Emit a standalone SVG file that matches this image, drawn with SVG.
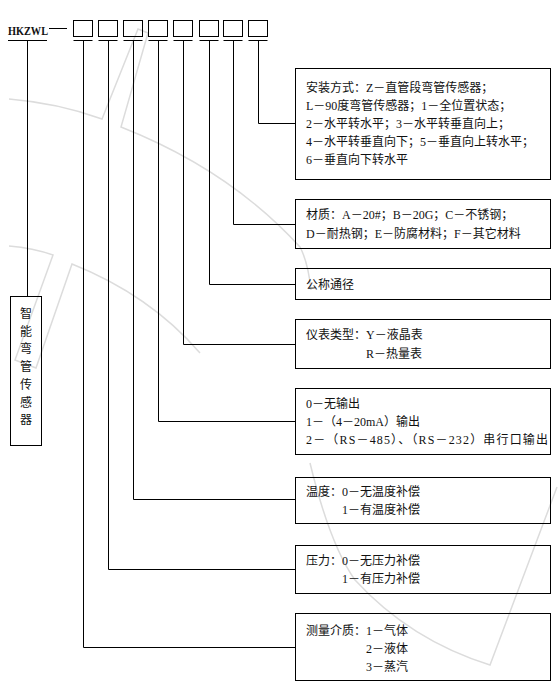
<svg xmlns="http://www.w3.org/2000/svg" width="560" height="700" viewBox="0 0 560 700">
<style>
.t{font-family:"Liberation Serif","Noto Sans CJK SC",serif;font-size:12px;fill:#111}
.b{fill:none;stroke:#000;stroke-width:1}
.c{fill:none;stroke:#000;stroke-width:1}
.w{fill:none;stroke:#dcdcdc;stroke-width:1.5}
</style>
<rect width="560" height="700" fill="#fff"/>
<g id="watermark">
<path class="w" d="M9,99Q58,103 102,119L138,29L148,33L121,127Q230,170 300,247Q308,262 311,290"/>
<path class="w" d="M9,246Q33,248 53,255L15,360L36,368L72,264Q150,295 200,353"/>
<path class="w" d="M310,463Q330,545 355,580Q410,640 490,665L557,487"/>
</g>
<g id="code">
<text class="t" x="8" y="35" textLength="40" lengthAdjust="spacingAndGlyphs" style="font-size:13px;font-weight:bold">HKZWL</text>
<line class="c" x1="49" y1="28.5" x2="67" y2="28.5"/>
<rect class="b" x="73.5" y="20.5" width="19" height="16"/>
<rect class="b" x="98.5" y="20.5" width="19" height="16"/>
<rect class="b" x="123.5" y="20.5" width="19" height="16"/>
<rect class="b" x="148.5" y="20.5" width="19" height="16"/>
<rect class="b" x="173.5" y="20.5" width="19" height="16"/>
<rect class="b" x="199.5" y="20.5" width="19" height="16"/>
<rect class="b" x="223.5" y="20.5" width="19" height="16"/>
<rect class="b" x="248.5" y="20.5" width="19" height="16"/>
</g>
<g id="connectors">
<path class="c" d="M8,40.5H47M27.5,40.5V296"/>
<path class="c" d="M73.5,40.5H92.5M83.5,40.5V647.5H295.5"/>
<path class="c" d="M98.5,40.5H117.5M108.5,40.5V569.5H295.5"/>
<path class="c" d="M123.5,40.5H142.5M133.5,40.5V499.5H295.5"/>
<path class="c" d="M148.5,40.5H167.5M158.5,40.5V421.5H295.5"/>
<path class="c" d="M173.5,40.5H192.5M183.5,40.5V344.5H295.5"/>
<path class="c" d="M199.5,40.5H218.5M209.5,40.5V284.5H295.5"/>
<path class="c" d="M223.5,40.5H242.5M233.5,40.5V224.5H295.5"/>
<path class="c" d="M248.5,40.5H267.5M258.5,40.5V123.5H295.5"/>
</g>
<g id="sensor">
<rect class="b" x="10.5" y="296.5" width="31" height="149"/>
<g class="t" text-anchor="middle">
<text x="26" y="317.5">智</text>
<text x="26" y="335.5">能</text>
<text x="26" y="352.5">弯</text>
<text x="26" y="370.5">管</text>
<text x="26" y="388.5">传</text>
<text x="26" y="406.5">感</text>
<text x="26" y="423.5">器</text>
</g>
</g>
<g id="install">
<rect class="b" x="295.5" y="68.5" width="255" height="111"/>
<text class="t" x="306" y="92">安装方式：Z－直管段弯管传感器；</text>
<text class="t" x="306" y="110">L－90度弯管传感器；1－全位置状态；</text>
<text class="t" x="306" y="128">2－水平转水平；3－水平转垂直向上；</text>
<text class="t" x="306" y="146">4－水平转垂直向下；5－垂直向上转水平；</text>
<text class="t" x="306" y="164">6－垂直向下转水平</text>
</g>
<g id="material">
<rect class="b" x="295.5" y="199.5" width="255" height="49"/>
<text class="t" x="306" y="218.5">材质：A－20#；B－20G；C－不锈钢；</text>
<text class="t" x="306" y="237.5">D－耐热钢；E－防腐材料；F－其它材料</text>
</g>
<g id="diameter">
<rect class="b" x="295.5" y="268.5" width="255" height="31"/>
<text class="t" x="306" y="288.5">公称通径</text>
</g>
<g id="meter">
<rect class="b" x="295.5" y="319.5" width="255" height="49"/>
<text class="t" x="306" y="338.5">仪表类型：Y－液晶表</text>
<text class="t" x="366" y="357.5">R－热量表</text>
</g>
<g id="output">
<rect class="b" x="295.5" y="388.5" width="255" height="66"/>
<text class="t" x="306" y="407.5">0－无输出</text>
<text class="t" x="306" y="425.5">1－（4－20mA）输出</text>
<text class="t" x="306" y="443.5" textLength="242" lengthAdjust="spacing">2－（RS－485）、（RS－232）串行口输出</text>
</g>
<g id="temperature">
<rect class="b" x="295.5" y="477.5" width="255" height="46"/>
<text class="t" x="306" y="495.5">温度：0－无温度补偿</text>
<text class="t" x="342" y="513.5">1－有温度补偿</text>
</g>
<g id="pressure">
<rect class="b" x="295.5" y="545.5" width="255" height="48"/>
<text class="t" x="306" y="564.5">压力：0－无压力补偿</text>
<text class="t" x="342" y="582.5">1－有压力补偿</text>
</g>
<g id="medium">
<rect class="b" x="295.5" y="613.5" width="255" height="67"/>
<text class="t" x="306" y="634.5">测量介质：1－气体</text>
<text class="t" x="366" y="652.5">2－液体</text>
<text class="t" x="366" y="671">3－蒸汽</text>
</g>
</svg>
